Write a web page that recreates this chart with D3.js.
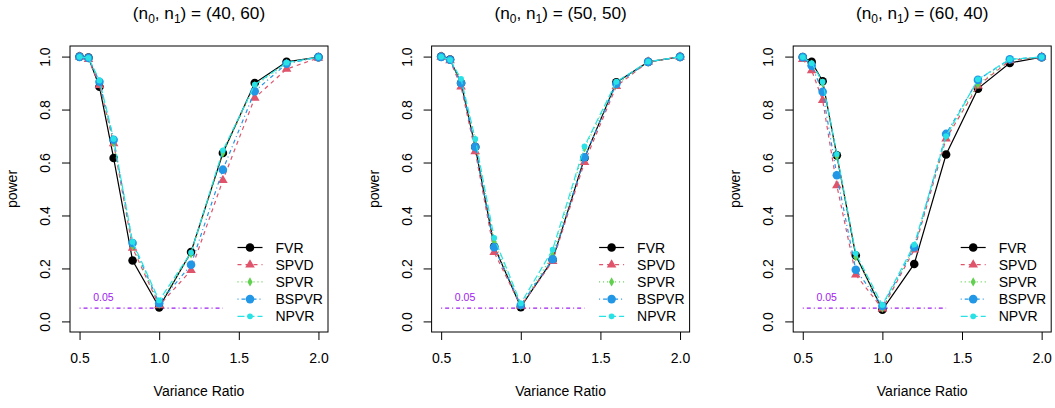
<!DOCTYPE html>
<html>
<head>
<meta charset="utf-8">
<script src="https://cdn.jsdelivr.net/npm/d3@7"></script>
<style>
  body { margin: 0; background: #fff; }
  svg { display: block; font-family: "Liberation Sans", Arial, Helvetica, sans-serif; }
</style>
</head>
<body>
<div id="chart"></div>
<script>
// variance ratios on the x axis
var ratios = [0.5, 0.556, 0.625, 0.714, 0.833, 1.0, 1.2, 1.4, 1.6, 1.8, 2.0];
var xTicks = [0.5, 1.0, 1.5, 2.0];
var yTicks = [0.0, 0.2, 0.4, 0.6, 0.8, 1.0];
var seriesNames = ['FVR', 'SPVD', 'SPVR', 'BSPVR', 'NPVR'];
var panelSizes = [[40, 60], [50, 50], [60, 40]];

// (n0, n1) = (40, 60)
var fvrA   = [1.000, 0.996, 0.886, 0.617, 0.230, 0.053, 0.262, 0.636, 0.900, 0.980, 0.998];
var spvdA  = [0.999, 0.990, 0.892, 0.672, 0.277, 0.060, 0.193, 0.533, 0.844, 0.953, 0.995];
var spvrA  = [0.999, 0.994, 0.903, 0.675, 0.285, 0.065, 0.255, 0.636, 0.890, 0.975, 0.998];
var bspvrA = [0.999, 0.995, 0.905, 0.686, 0.296, 0.069, 0.214, 0.573, 0.869, 0.973, 0.998];
var npvrA  = [0.999, 0.995, 0.910, 0.689, 0.300, 0.079, 0.260, 0.646, 0.894, 0.977, 0.998];

// (n0, n1) = (50, 50)
var fvrB   = [1.000, 0.989, 0.900, 0.659, 0.283, 0.054, 0.233, 0.617, 0.903, 0.980, 0.999];
var spvdB  = [0.999, 0.985, 0.886, 0.642, 0.261, 0.058, 0.227, 0.601, 0.888, 0.980, 0.999];
var spvrB  = [0.999, 0.988, 0.905, 0.686, 0.300, 0.060, 0.250, 0.655, 0.895, 0.980, 0.999];
var bspvrB = [0.999, 0.988, 0.900, 0.659, 0.280, 0.062, 0.235, 0.620, 0.897, 0.980, 0.999];
var npvrB  = [0.999, 0.988, 0.916, 0.689, 0.315, 0.068, 0.271, 0.661, 0.905, 0.981, 0.999];

// (n0, n1) = (60, 40)
var fvrC   = [0.998, 0.980, 0.907, 0.627, 0.249, 0.044, 0.217, 0.630, 0.879, 0.976, 0.998];
var spvdC  = [0.990, 0.948, 0.835, 0.513, 0.176, 0.048, 0.271, 0.690, 0.890, 0.985, 0.998];
var spvrC  = [0.996, 0.972, 0.900, 0.624, 0.243, 0.050, 0.280, 0.700, 0.895, 0.988, 0.998];
var bspvrC = [0.998, 0.966, 0.867, 0.552, 0.195, 0.058, 0.280, 0.708, 0.912, 0.990, 0.998];
var npvrC  = [0.998, 0.975, 0.905, 0.632, 0.256, 0.062, 0.290, 0.700, 0.914, 0.990, 0.998];

var refLevel = 0.05;
var refRange = [0.5, 1.4];

var panelData = [
  [fvrA, spvdA, spvrA, bspvrA, npvrA],
  [fvrB, spvdB, spvrB, bspvrB, npvrB],
  [fvrC, spvdC, spvrC, bspvrC, npvrC]
];

var styles = [
  {color: '#000000', dash: null,      symbol: d3.symbolCircle,   size: 58},
  {color: '#DF536B', dash: '4,4',     symbol: d3.symbolTriangle, size: 40},
  {color: '#61D04F', dash: '1,3',     symbol: d3.symbolDiamond,  size: 24},
  {color: '#2297E6', dash: '1,3,4,3', symbol: d3.symbolCircle,   size: 58},
  {color: '#28E2E5', dash: '7,3',     symbol: d3.symbolCircle,   size: 26}
];

var W = 1055, H = 408;
var plot = {top: 46, width: 258, height: 286, left0: 70, step: 361.6};

var svg = d3.select('#chart').append('svg')
  .attr('width', W)
  .attr('height', H);

// R style axis limits: 4% padding on both sides
function pad(ext) {
  var d = (ext[1] - ext[0]) * 0.04;
  return [ext[0] - d, ext[1] + d];
}

var x = d3.scaleLinear().domain(pad(d3.extent(ratios))).range([0, plot.width]);
var y = d3.scaleLinear().domain(pad([0, 1])).range([plot.height, 0]);

var line = d3.line()
  .x(function(d) { return x(d[0]); })
  .y(function(d) { return y(d[1]); });

panelData.forEach(function(series, p) {
  var g = svg.append('g')
    .attr('transform', 'translate(' + (plot.left0 + p * plot.step) + ',' + plot.top + ')');

  // title with subscripts
  var title = g.append('text')
    .attr('x', plot.width / 2)
    .attr('y', -27)
    .attr('text-anchor', 'middle')
    .attr('font-size', 17.2);
  title.append('tspan').text('(n');
  title.append('tspan').attr('dy', 4).attr('font-size', 12).text('0');
  title.append('tspan').attr('dy', -4).text(', n');
  title.append('tspan').attr('dy', 4).attr('font-size', 12).text('1');
  title.append('tspan').attr('dy', -4)
    .text(') = (' + panelSizes[p][0] + ', ' + panelSizes[p][1] + ')');

  // axes
  var xAxis = g.append('g')
    .attr('transform', 'translate(0,' + plot.height + ')')
    .call(d3.axisBottom(x).tickValues(xTicks).tickFormat(d3.format('.1f'))
      .tickSize(8).tickPadding(13).tickSizeOuter(0));
  xAxis.select('.domain').remove();

  var yAxis = g.append('g')
    .call(d3.axisLeft(y).tickValues(yTicks).tickFormat(d3.format('.1f'))
      .tickSize(8).tickSizeOuter(0));
  yAxis.select('.domain').remove();
  yAxis.selectAll('.tick text')
    .attr('x', null)
    .attr('dy', '0.36em')
    .attr('text-anchor', 'middle')
    .attr('transform', 'translate(-25,0) rotate(-90)');

  g.selectAll('.tick text')
    .attr('font-size', 14)
    .attr('font-family', '"Liberation Sans", Arial, sans-serif')
    .attr('fill', '#000');
  g.selectAll('.tick line').attr('stroke', '#000');

  g.append('text')
    .attr('x', plot.width / 2)
    .attr('y', plot.height + 64)
    .attr('text-anchor', 'middle')
    .attr('font-size', 14)
    .text('Variance Ratio');

  g.append('text')
    .attr('transform', 'translate(-53,' + (plot.height / 2) + ') rotate(-90)')
    .attr('text-anchor', 'middle')
    .attr('font-size', 14)
    .text('power');

  // reference level
  g.append('line')
    .attr('x1', x(refRange[0]))
    .attr('x2', x(refRange[1]))
    .attr('y1', y(refLevel))
    .attr('y2', y(refLevel))
    .attr('stroke', '#A020F0')
    .attr('stroke-width', 1.2)
    .attr('stroke-dasharray', '1,3,4,3');

  g.append('text')
    .attr('x', x(0.65))
    .attr('y', y(0.09))
    .attr('dy', '0.35em')
    .attr('text-anchor', 'middle')
    .attr('font-size', 10.5)
    .attr('fill', '#A020F0')
    .text('0.05');

  // series: lines then points
  series.forEach(function(vals, s) {
    var st = styles[s];
    var pts = ratios.map(function(r, i) { return [r, vals[i]]; });

    g.append('path')
      .datum(pts)
      .attr('fill', 'none')
      .attr('stroke', st.color)
      .attr('stroke-width', 1.2)
      .attr('stroke-dasharray', st.dash)
      .attr('d', line);

    g.selectAll('path.pt-' + s)
      .data(pts)
      .enter()
      .append('path')
        .attr('class', 'pt-' + s)
        .attr('fill', st.color)
        .attr('transform', function(d) {
          return 'translate(' + x(d[0]) + ',' + y(d[1]) + ')';
        })
        .attr('d', d3.symbol().type(st.symbol).size(st.size));
  });

  // legend, bottom right, no box
  var legend = g.append('g')
    .attr('transform', 'translate(167.5,201.5)');

  var rows = legend.selectAll('g.row')
    .data(seriesNames)
    .enter()
    .append('g')
      .attr('class', 'row')
      .attr('transform', function(d, i) { return 'translate(0,' + (i * 17.2) + ')'; });

  rows.append('line')
    .attr('x1', 0)
    .attr('x2', 25)
    .attr('stroke', function(d, i) { return styles[i].color; })
    .attr('stroke-width', 1.2)
    .attr('stroke-dasharray', function(d, i) { return styles[i].dash; });

  rows.append('path')
    .attr('transform', 'translate(12.5,0)')
    .attr('fill', function(d, i) { return styles[i].color; })
    .attr('d', function(d, i) {
      return d3.symbol().type(styles[i].symbol).size(styles[i].size)();
    });

  rows.append('text')
    .attr('x', 38)
    .attr('dy', '0.36em')
    .attr('font-size', 14)
    .text(function(d) { return d; });

  // frame
  g.append('rect')
    .attr('width', plot.width)
    .attr('height', plot.height)
    .attr('fill', 'none')
    .attr('stroke', '#000')
    .attr('stroke-width', 1);
});
</script>
</body>
</html>
